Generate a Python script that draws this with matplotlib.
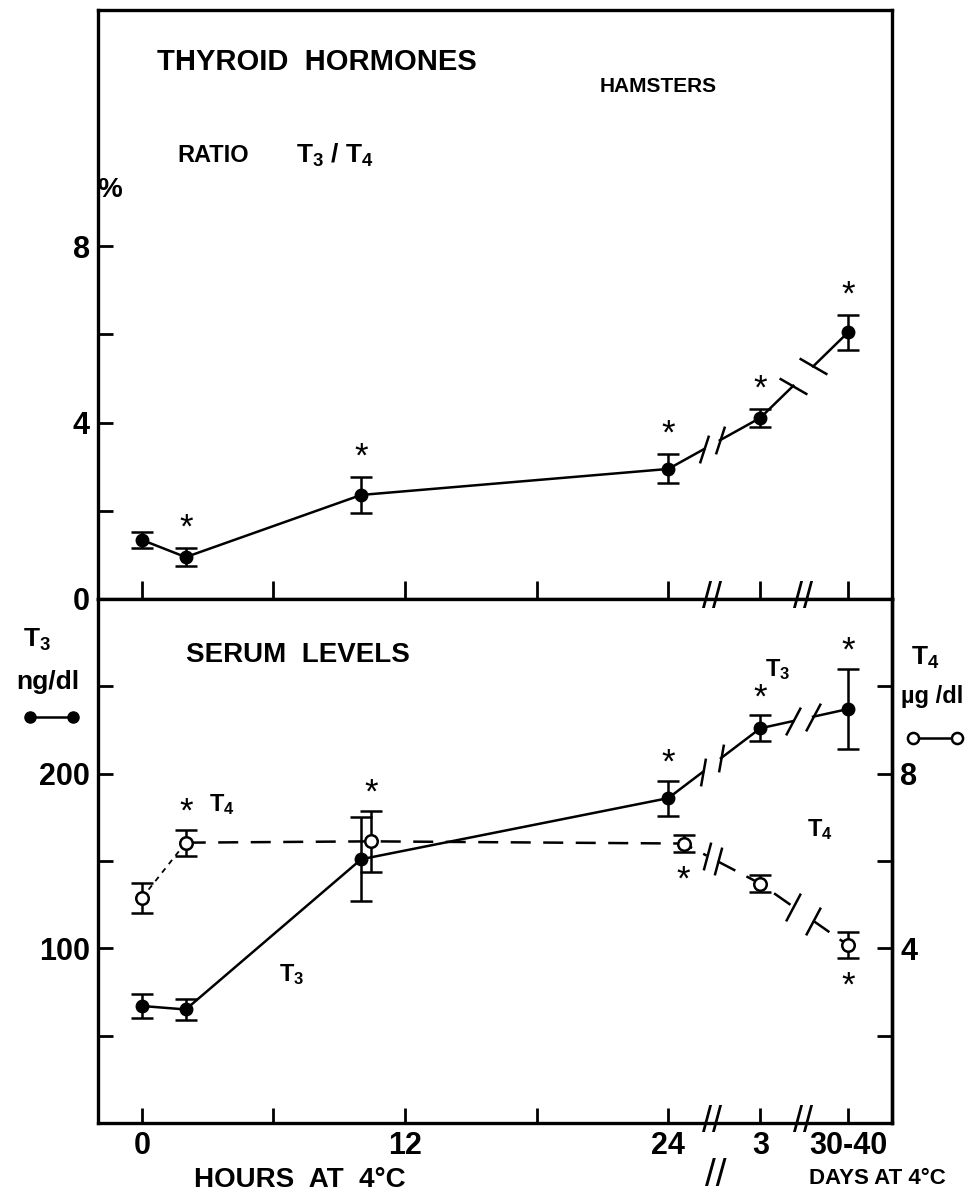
import matplotlib.pyplot as plt
from matplotlib.path import Path
from matplotlib.lines import Line2D
import numpy as np

plt.rcParams['font.family'] = ['Liberation Sans', 'DejaVu Sans']
plt.rcParams['font.weight'] = 'bold'
plt.rcParams['mathtext.fontset'] = 'custom'
plt.rcParams['mathtext.rm'] = 'Liberation Sans:bold'
plt.rcParams['mathtext.it'] = 'Liberation Sans:bold'
plt.rcParams['mathtext.default'] = 'rm'

# --- data ---
hours = [0, 2, 10, 24]          # hours at 4 C
day_labels = ['3', '30-40']     # days at 4 C

# ratio T3/T4 (%)
ratio = [1.34, 0.95, 2.36, 2.95, 4.11, 6.05]
ratio_err = [0.18, 0.20, 0.41, 0.33, 0.20, 0.40]
ratio_sig = ['', 'above', 'above', 'above', 'above', 'above']

# serum T3 (ng/dl)
t3 = [67, 65, 151, 186, 226, 237]
t3_err = [7, 6, 24, 10, 7.5, 23]
t3_sig = ['', '', '', 'above', 'above', 'above']

# serum T4 (ug/dl)
t4 = [5.15, 6.42, 6.45, 6.40, 5.48, 4.07]
t4_err = [0.35, 0.30, 0.70, 0.20, 0.20, 0.30]
t4_sig = ['', 'above', 'above', 'below', '', 'below']

# --- layout ---
day_pos = [28.2, 32.2]               # where the day points sit on the time axis
xs = hours + day_pos
t4_shift = [0, 0, 0.45, 0.7, 0, 0]   # open circles nudged right so bars don't overlap
xs_t4 = [a + b for a, b in zip(xs, t4_shift)]
brk = [26.0, 30.15]                  # axis breaks

W, H = 971, 1199
fig = plt.figure(figsize=(W / 100, H / 100), dpi=100)
ax1 = fig.add_axes([98 / W, 1 - 599 / H, 794 / W, 589 / H])
ax2 = fig.add_axes([98 / W, 1 - 1123 / H, 794 / W, 524 / H])
ax2r = ax2.twinx()


def ftext(x, y, s, size, ha='left', **kw):
    fig.text(x / W, 1 - y / H, s, fontsize=size, ha=ha, va='center', **kw)


def slash(angle):
    a = np.deg2rad(angle)
    return Path([(-np.cos(a), -np.sin(a)), (np.cos(a), np.sin(a))])


def broken_line(ax, x, y, gaps, ls='-', lw=1.8):
    # gaps: {segment index: (half width, slash angle)}
    cx, cy = [x[0]], [y[0]]
    for i in range(len(x) - 1):
        if i in gaps:
            half, ang = gaps[i]
            c = brk[0] if x[i + 1] < brk[1] else brk[1]
            xa, xb = c - half, c + half
            ya = np.interp(xa, [x[i], x[i + 1]], [y[i], y[i + 1]])
            yb = np.interp(xb, [x[i], x[i + 1]], [y[i], y[i + 1]])
            cx.append(xa); cy.append(ya)
            ax.plot(cx, cy, color='k', lw=lw, ls=ls, zorder=2)
            ax.plot([xa, xb], [ya, yb], ls='none', marker=slash(ang), ms=20,
                    mec='k', mew=1.8, fillstyle='none', zorder=2)
            cx, cy = [xb], [yb]
        cx.append(x[i + 1]); cy.append(y[i + 1])
    ax.plot(cx, cy, color='k', lw=lw, ls=ls, zorder=2)


def stars(ax, x, y, err, where, dy):
    for xi, yi, ei, w in zip(x, y, err, where):
        if w == 'above':
            ax.text(xi, yi + ei + dy, '*', fontsize=25, ha='center', va='center',
                    fontweight='normal')
        elif w == 'below':
            ax.text(xi, yi - ei - dy * 1.6, '*', fontsize=25, ha='center',
                    va='center', fontweight='normal')


# --- top panel: ratio ---
broken_line(ax1, xs, ratio, {3: (0.35, 72), 4: (0.45, -30)})
ax1.errorbar(xs, ratio, yerr=ratio_err, fmt='o', color='k', ms=9,
             elinewidth=1.8, capsize=8, capthick=1.8, zorder=3)
stars(ax1, xs, ratio, ratio_err, ratio_sig, 0.45)

# --- bottom panel: serum levels ---
broken_line(ax2, xs, t3, {3: (0.4, 80), 4: (0.45, 62)})
ax2.errorbar(xs, t3, yerr=t3_err, fmt='o', color='k', ms=9,
             elinewidth=1.8, capsize=8, capthick=1.8, zorder=3)
stars(ax2, xs, t3, t3_err, t3_sig, 10)

ax2r.plot(xs_t4[:2], t4[:2], color='k', lw=1.3, ls=(0, (3, 3)), zorder=2)
broken_line(ax2r, xs_t4[1:], t4[1:], {2: (0.25, 75), 3: (0.45, 62)},
            ls=(0, (8, 5)))
ax2r.errorbar(xs_t4, t4, yerr=t4_err, fmt='o', color='k', mfc='white', mec='k',
              mew=1.8, ms=9, elinewidth=1.8, capsize=8, capthick=1.8, zorder=3)
stars(ax2r, xs_t4, t4, t4_err, t4_sig, 0.4)

# --- axes styling ---
xt = [0, 6, 12, 18, 24] + day_pos
for ax in (ax1, ax2):
    ax.set_xlim(-2.0, 34.2)
    ax.set_xticks(xt)
    for s in ax.spines.values():
        s.set_linewidth(2.4)
ax1.set_xticklabels([])
ax2.set_xticklabels(['0', '', '12', '', '24'] + day_labels)

ax1.set_ylim(0, 13.36)
ax1.set_yticks([0, 2, 4, 6, 8])
ax1.set_yticklabels(['0', '', '4', '', '8'])
ax2.set_ylim(0, 300)
ax2.set_yticks([50, 100, 150, 200, 250])
ax2.set_yticklabels(['', '100', '', '200', ''])
ax2r.set_ylim(0, 12)
ax2r.set_yticks([2, 4, 6, 8, 10])
ax2r.set_yticklabels(['', '4', '', '8', ''])
ax2r.spines['right'].set_linewidth(2.4)

for ax in (ax1, ax2, ax2r):
    ax.tick_params(direction='in', length=11, width=2, labelsize=22, pad=6)
ax1.tick_params(axis='x', length=13)

# axis break marks
for b in brk:
    for yy in (0, 1):
        ax2.text(b, yy, '//', transform=ax2.get_xaxis_transform(), fontsize=26,
                 ha='center', va='center', fontweight='normal')

# --- labels ---
ftext(157, 62, 'THYROID  HORMONES', 21)
ftext(600, 87, 'HAMSTERS', 15)
ftext(177, 155, 'RATIO', 17)
ftext(296, 155, 'T$_3$ / T$_4$', 19)
ftext(110, 190, '%', 20, ha='center')

ftext(186, 655, 'SERUM  LEVELS', 20)
ftext(37, 640, 'T$_3$', 19, ha='center')
ftext(48, 682, 'ng/dl', 19, ha='center')
ftext(925, 658, 'T$_4$', 19, ha='center')
ftext(932, 697, 'µg /dl', 17, ha='center')
ftext(222, 805, 'T$_4$', 17, ha='center')
ftext(292, 975, 'T$_3$', 17, ha='center')
ftext(778, 670, 'T$_3$', 17, ha='center')
ftext(820, 830, 'T$_4$', 17, ha='center')

fig.add_artist(Line2D([30 / W, 73 / W], [1 - 717 / H] * 2, color='k', lw=1.8,
                      marker='o', ms=8))
fig.add_artist(Line2D([913 / W, 957 / W], [1 - 738 / H] * 2, color='k', lw=1.8,
                      marker='o', ms=8, mfc='white', mew=1.8))

ftext(300, 1180, 'HOURS  AT  4°C', 20, ha='center')
ftext(877, 1178, 'DAYS AT 4°C', 16, ha='center')
ftext(716, 1176, '//', 28, ha='center', fontweight='normal')

fig.savefig('out.png', dpi=100)
